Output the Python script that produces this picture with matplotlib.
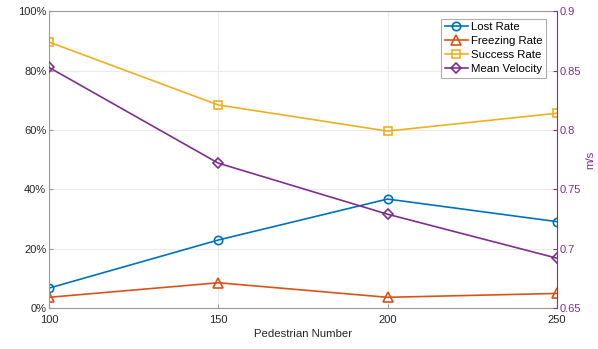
import matplotlib
matplotlib.use("Agg")
import matplotlib.pyplot as plt
from matplotlib.ticker import FuncFormatter

plt.rcParams['font.family'] = ['Liberation Sans', 'DejaVu Sans']

pedestrians = [100, 150, 200, 250]
lost_rate = [6.7, 22.9, 36.7, 29.1]
freezing_rate = [3.6, 8.5, 3.6, 4.9]
success_rate = [89.6, 68.4, 59.6, 65.6]
mean_velocity = [0.8526, 0.772, 0.729, 0.692]

c_blue = (0, 0.447, 0.741)
c_orange = (0.851, 0.325, 0.098)
c_yellow = (0.929, 0.694, 0.125)
c_purple = (0.494, 0.184, 0.556)
gray = (0.15, 0.15, 0.15)

fig = plt.figure(figsize=(5.98, 3.49), dpi=100)
ax = fig.add_axes([0.082, 0.1175, 0.849, 0.8505])
ax2 = ax.twinx()

l1, = ax.plot(pedestrians, lost_rate, '-o', color=c_blue, lw=1.2, ms=6, mfc='none', mew=1.2, label='Lost Rate')
l2, = ax.plot(pedestrians, freezing_rate, '-^', color=c_orange, lw=1.2, ms=6.5, mfc='none', mew=1.2, label='Freezing Rate')
l3, = ax.plot(pedestrians, success_rate, '-s', color=c_yellow, lw=1.2, ms=5.5, mfc='none', mew=1.2, label='Success Rate')
l4, = ax2.plot(pedestrians, mean_velocity, '-D', color=c_purple, lw=1.2, ms=5.5, mfc='none', mew=1.2, label='Mean Velocity')

ax.set_xlim(100, 250)
ax.set_ylim(0, 100)
ax2.set_ylim(0.65, 0.9)
ax.set_xticks(pedestrians)
ax.set_yticks([0, 20, 40, 60, 80, 100])
ax.yaxis.set_major_formatter(FuncFormatter(lambda v, p: f"{int(v)}%"))
ax2.set_yticks([0.65, 0.7, 0.75, 0.8, 0.85, 0.9])
ax2.set_yticklabels(['0.65', '0.7', '0.75', '0.8', '0.85', '0.9'])

ax.grid(True, color=(0.92, 0.92, 0.92), lw=0.8)
ax.set_axisbelow(True)

for s in ['left', 'bottom']:
    ax.spines[s].set_color((0.6, 0.6, 0.6))
for s in ['left', 'bottom', 'top']:
    ax2.spines[s].set_visible(False)
ax.spines['right'].set_visible(False)
ax.spines['top'].set_color((0.6, 0.6, 0.6))
ax2.spines['right'].set_color(c_purple)

ax.tick_params(axis='both', direction='in', length=3, labelsize=8, colors=gray, color=(0.6, 0.6, 0.6), pad=2)
ax.tick_params(axis='x', pad=5)
ax2.tick_params(axis='y', direction='in', length=3, labelsize=8, colors=c_purple, pad=2)

ax.set_xlabel('Pedestrian Number', fontsize=8.2, color=gray, labelpad=3)
ax2.set_ylabel('m/s', fontsize=8.2, color=c_purple, labelpad=3)

leg = ax2.legend(handles=[l1, l2, l3, l4], loc='upper right', bbox_to_anchor=(0.978, 0.975),
                 fontsize=8.2, frameon=True, fancybox=False, borderpad=0.3, labelspacing=0.36,
                 handlelength=2.0, handletextpad=0.25, borderaxespad=0)
leg.get_frame().set_edgecolor((0.6, 0.6, 0.6))
leg.get_frame().set_linewidth(0.8)
for t in leg.get_texts():
    t.set_color('black')

fig.savefig('out.png', dpi=100)
